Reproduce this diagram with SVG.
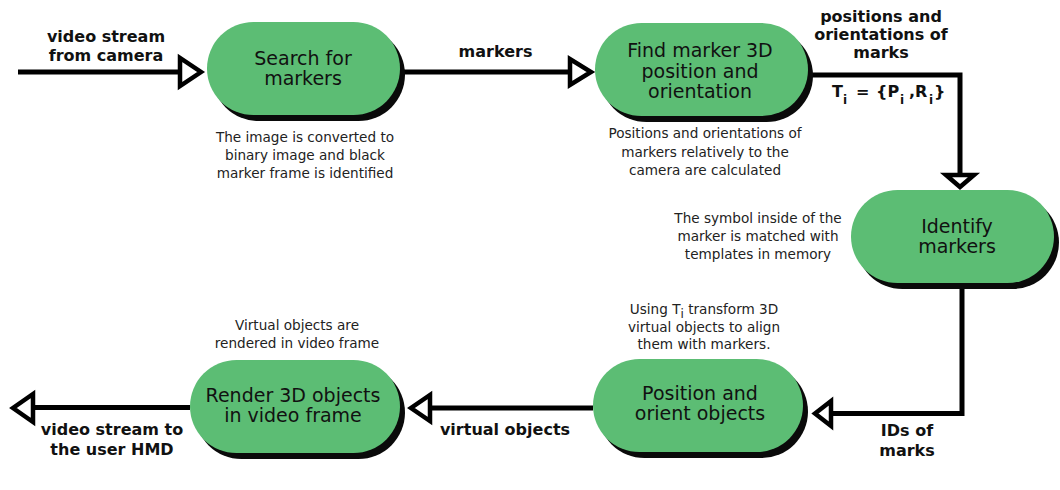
<svg xmlns="http://www.w3.org/2000/svg" width="1060" height="490" viewBox="0 0 1060 490">
<style>
  .bg { fill: #ffffff; }
  .pill { fill: #5cbd74; }
  .shadow { fill: #0a0a0a; }
  .ntext { font-family: "DejaVu Sans", Verdana, sans-serif; font-size: 19px; fill: #111; text-anchor: middle; }
  .desc { font-family: "DejaVu Sans", Verdana, sans-serif; font-size: 13.6px; fill: #222; text-anchor: middle; }
  .lbl { font-family: "DejaVu Sans", Verdana, sans-serif; font-size: 16px; font-weight: bold; fill: #111; text-anchor: middle; }
  .sub { font-size: 12px; }
  .line { fill: none; stroke: #000; stroke-width: 5; stroke-linejoin: miter; }
  .head { fill: #fff; stroke: #000; stroke-width: 4.5; stroke-linejoin: miter; stroke-miterlimit: 10; }
</style>
<rect class="bg" x="0" y="0" width="1060" height="490"/>

<g id="connectors">
  <line class="line" x1="18" y1="72" x2="180" y2="72"/>
  <polygon class="head" points="180,58 180,86 201,72"/>

  <line class="line" x1="400" y1="72" x2="570" y2="72"/>
  <polygon class="head" points="570,59 570,85 591,72"/>

  <polyline class="line" points="805,75 960,75 960,175"/>
  <polygon class="head" points="946,175 974,175 960,187"/>

  <polyline class="line" points="962,283 962,413.5 831,413.5"/>
  <polygon class="head" points="831,401 831,426 815,413.5"/>

  <line class="line" x1="593" y1="408" x2="430" y2="408"/>
  <polygon class="head" points="430,395 430,421 411,408"/>

  <line class="line" x1="190" y1="407.5" x2="33" y2="407.5"/>
  <polygon class="head" points="33,394 33,422 13,408"/>
</g>

<g id="labels">
  <text class="lbl" x="106" y="42">video stream</text>
  <text class="lbl" x="106" y="61">from camera</text>
  <text class="lbl" x="495.5" y="57">markers</text>
  <text class="lbl" x="881" y="22">positions and</text>
  <text class="lbl" x="881" y="40">orientations of</text>
  <text class="lbl" x="881" y="58">marks</text>
  <text class="lbl" style="text-anchor:start" y="97"><tspan x="832">T</tspan><tspan class="sub" x="843" y="104">i</tspan><tspan x="856" y="97">=</tspan><tspan x="876" y="97">{P</tspan><tspan class="sub" x="900" y="104">i</tspan><tspan x="909" y="97">,R</tspan><tspan class="sub" x="929" y="104">i</tspan><tspan x="934" y="97">}</tspan></text>
  <text class="lbl" x="907" y="436">IDs of</text>
  <text class="lbl" x="907" y="456">marks</text>
  <text class="lbl" x="505" y="435">virtual objects</text>
  <text class="lbl" x="112" y="435">video stream to</text>
  <text class="lbl" x="112" y="455">the user HMD</text>
</g>

<g id="node-search">
  <rect class="shadow" x="212" y="28" width="193" height="93" rx="46.5"/>
  <rect class="pill" x="207" y="22" width="193" height="93" rx="46.5"/>
  <text class="ntext" x="303" y="65">Search for</text>
  <text class="ntext" x="303" y="85">markers</text>
  <text class="desc" x="305" y="141.5">The image is converted to</text>
  <text class="desc" x="305" y="160">binary image and black</text>
  <text class="desc" x="305" y="178">marker frame is identified</text>
</g>

<g id="node-find">
  <rect class="shadow" x="600" y="29" width="213" height="93" rx="46.5"/>
  <rect class="pill" x="595" y="23" width="213" height="93" rx="46.5"/>
  <text class="ntext" x="700" y="57">Find marker 3D</text>
  <text class="ntext" x="700" y="77.5">position and</text>
  <text class="ntext" x="700" y="98">orientation</text>
  <text class="desc" x="705" y="138">Positions and orientations of</text>
  <text class="desc" x="705" y="156.5">markers relatively to the</text>
  <text class="desc" x="705" y="175">camera are calculated</text>
</g>

<g id="node-identify">
  <rect class="shadow" x="856" y="196" width="203" height="93" rx="46.5"/>
  <rect class="pill" x="851" y="190" width="203" height="93" rx="46.5"/>
  <text class="ntext" x="957" y="233">Identify</text>
  <text class="ntext" x="957" y="253">markers</text>
  <text class="desc" x="758" y="223">The symbol inside of the</text>
  <text class="desc" x="758" y="241">marker is matched with</text>
  <text class="desc" x="758" y="259">templates in memory</text>
</g>

<g id="node-position">
  <rect class="shadow" x="598" y="365" width="210" height="93" rx="46.5"/>
  <rect class="pill" x="593" y="359" width="210" height="93" rx="46.5"/>
  <text class="ntext" x="700" y="400">Position and</text>
  <text class="ntext" x="700" y="420">orient objects</text>
  <text class="desc" x="704" y="314">Using T<tspan class="sub" dy="4">i</tspan><tspan dy="-4"> transform 3D</tspan></text>
  <text class="desc" x="704" y="332">virtual objects to align</text>
  <text class="desc" x="704" y="349">them with markers.</text>
</g>

<g id="node-render">
  <rect class="shadow" x="195" y="366" width="210" height="93" rx="46.5"/>
  <rect class="pill" x="190" y="360" width="210" height="93" rx="46.5"/>
  <text class="ntext" x="293" y="402">Render 3D objects</text>
  <text class="ntext" x="293" y="422">in video frame</text>
  <text class="desc" x="297" y="330">Virtual objects are</text>
  <text class="desc" x="297" y="348">rendered in video frame</text>
</g>
</svg>
